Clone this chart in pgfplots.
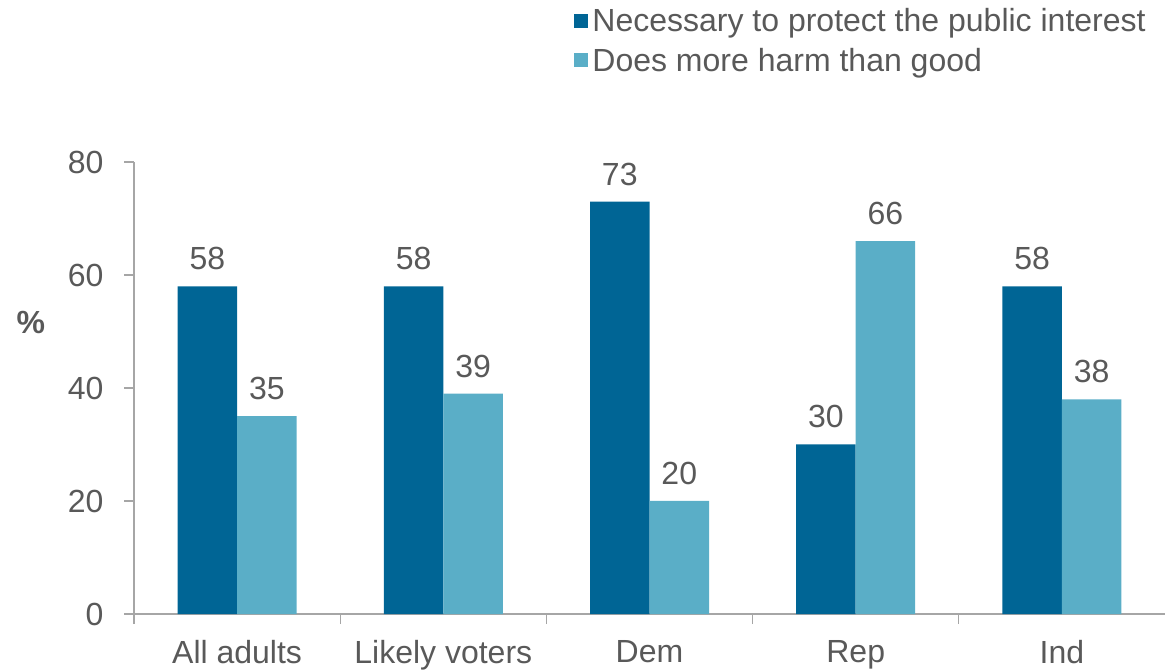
\documentclass[border=0pt]{standalone}
\usepackage{pgfplots}
\pgfplotsset{compat=1.18}
\usepackage{fontspec}
\setmainfont{Liberation Sans}
\definecolor{dark}{HTML}{006595}
\definecolor{light}{HTML}{5AAEC7}
\definecolor{txt}{HTML}{595959}
\definecolor{axl}{HTML}{A6A6A6}
\begin{document}
\begin{tikzpicture}
\begin{axis}[
  scale only axis,
  width=1031bp, height=452bp,
  ymin=0, ymax=80,
  xmin=-0.5, xmax=4.5,
  ybar=0pt, bar width=59.5bp,
  axis x line*=bottom, axis y line*=left,
  axis line style={axl, line width=1.3bp, -},
  ytick={0,20,40,60,80},
  xtick={0,1,2,3,4},
  xticklabels={All adults, Likely voters, Dem, Rep, Ind},
  major x tick style={draw=none},
  minor xtick={-0.5,0.5,1.5,2.5,3.5},
  minor x tick style={axl, line width=1.3bp},
  minor tick length=10bp,
  y tick style={axl, line width=1.3bp},
  major tick length=10bp,
  tick align=outside,
  tick label style={font=\fontsize{32bp}{38bp}\selectfont, text=txt},
  yticklabel style={xshift=-17bp},
  xticklabel style={yshift=-13bp},
  /pgf/number format/assume math mode=true,
  ylabel={\textbf{\%}},
  ylabel style={at={(axis description cs:-0.1,0.646)}, rotate=-90, anchor=center, font=\fontsize{32bp}{38bp}\selectfont, text=txt},
  nodes near coords,
  nodes near coords style={font=\fontsize{32bp}{38bp}\selectfont, text=txt, inner sep=0pt, anchor=south, yshift=16bp},
  legend style={at={(rel axis cs:0.427,1.345)}, anchor=north west, draw=none, fill=none,
    font=\fontsize{32bp}{38bp}\selectfont, text=txt, inner sep=0pt, row sep=11bp,
    /tikz/every even column/.append style={column sep=0pt}},
  legend cell align=left,
  legend image code/.code={\fill[#1] (0bp,-7bp) rectangle (14bp,7bp);},
  clip=false,
]
\addplot[fill=dark, draw=none] coordinates {(0,58) (1,58) (2,73) (3,30) (4,58)};
\addplot[fill=light, draw=none] coordinates {(0,35) (1,39) (2,20) (3,66) (4,38)};
\legend{\hspace{2bp}Necessary to protect the public interest, \hspace{2bp}Does more harm than good}
\coordinate (bl) at (rel axis cs:0,0);
\coordinate (tr) at (rel axis cs:1,1);
\end{axis}
\pgfresetboundingbox
\path[use as bounding box] ([xshift=-134bp,yshift=-55bp]bl) rectangle ([yshift=162bp]tr);
\end{tikzpicture}
\end{document}
